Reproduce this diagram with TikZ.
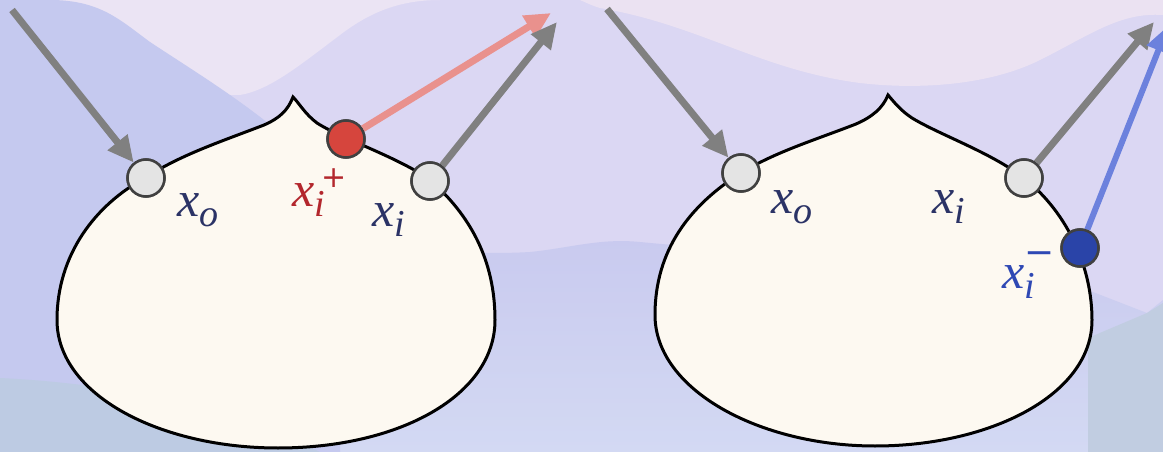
\documentclass[tikz,border=0pt]{standalone}
\usepackage{fontspec}
\setmainfont{Liberation Serif}
\newfontfamily\signfont{DejaVu Sans}
\usetikzlibrary{arrows.meta}
\definecolor{bgbase}{HTML}{DBD7F3}
\definecolor{pinka}{HTML}{EBE4F4}
\definecolor{pinkb}{HTML}{EBE2F2}
\definecolor{bluel}{HTML}{C5C9EF}
\definecolor{bandtop}{HTML}{C9CAEF}
\definecolor{bandbot}{HTML}{D3D9F3}
\definecolor{greyblue}{HTML}{BDCBE3}
\definecolor{greyblueR}{HTML}{C1CDE1}
\definecolor{cream}{HTML}{FDF9F1}
\definecolor{ptgrey}{HTML}{E4E4E4}
\definecolor{ptedge}{HTML}{404040}
\definecolor{ptred}{HTML}{D6453D}
\definecolor{ptblue}{HTML}{2A44A8}
\definecolor{argrey}{HTML}{808080}
\definecolor{arpink}{HTML}{E9918D}
\definecolor{arblue}{HTML}{6C81DD}
\definecolor{txnavy}{HTML}{2B3366}
\definecolor{txred}{HTML}{B3272D}
\definecolor{txblue}{HTML}{2E48B4}
\newcommand{\lsub}[1]{\raisebox{-10pt}{\fontsize{38}{38}\selectfont\itshape #1}}
\newcommand{\lsign}[3]{\raisebox{#1}{\fontsize{#2}{#2}\selectfont\signfont\upshape #3}}
\tikzset{
  blob/.style={draw=black, line width=3pt, fill=cream},
  pt/.style={circle, draw=ptedge, line width=2.5pt, minimum size=37pt, inner sep=0pt},
  arr/.style={line width=7pt, -{Triangle[length=26pt,width=24pt]}},
  lbl/.style={inner sep=0pt, anchor=base west, font=\fontsize{50}{54}\selectfont\itshape}
}
\begin{document}
\begin{tikzpicture}[x=1pt,y=-1pt]
\useasboundingbox (0,0) rectangle (1163,452);
\clip (0,0) rectangle (1163,452);
% background
\fill[bgbase] (0,0) rectangle (1163,452);
\fill[pinka] (0,0) -- (440,0) .. controls (400,0) and (370,12) .. (340,35)
  .. controls (300,65) and (270,90) .. (240,95) -- (0,95) -- cycle;
\fill[pinkb] (580,0) -- (1163,0) -- (1163,15) .. controls (1120,12) and (1090,35) .. (1040,60)
  .. controls (990,85) and (920,90) .. (860,83) .. controls (760,70) and (700,25) .. (600,8)
  .. controls (590,5) and (585,2) .. (580,0) -- cycle;
\shade[top color=bandtop, bottom color=bandbot] (300,252) .. controls (420,250) and (480,255) .. (530,252)
  .. controls (570,248) and (600,238) .. (640,242) .. controls (700,248) and (900,262) .. (1080,287)
  -- (1147,313) -- (1163,300) -- (1163,452) -- (300,452) -- cycle;
\fill[bluel] (0,0) -- (50,0) .. controls (100,0) and (120,20) .. (150,42)
  .. controls (200,75) and (250,105) .. (300,150) -- (340,200) -- (340,452) -- (0,452) -- cycle;
\fill[greyblue] (0,378) .. controls (80,382) and (200,395) .. (320,452) -- (0,452) -- cycle;
\fill[greyblueR] (1088,338) -- (1147,313) -- (1163,303) -- (1163,452) -- (1088,452) -- cycle;
% left blob
\draw[blob] (293,97) .. controls (288,110) and (280,118) .. (264,125)
  .. controls (220,142) and (180,155) .. (145,178)
  .. controls (95,205) and (57,255) .. (57,320)
  .. controls (57,395) and (160,448) .. (278,448)
  .. controls (400,448) and (495,395) .. (495,320)
  .. controls (495,260) and (470,215) .. (430,180)
  .. controls (400,158) and (340,138) .. (317,123)
  .. controls (305,114) and (299,103) .. (293,97) -- cycle;
% right blob
\draw[blob] (888,95) .. controls (883,108) and (872,117) .. (856,124)
  .. controls (815,140) and (775,152) .. (741,173)
  .. controls (690,205) and (655,250) .. (655,315)
  .. controls (655,390) and (760,446) .. (875,446)
  .. controls (990,446) and (1092,395) .. (1092,320)
  .. controls (1092,270) and (1070,215) .. (1024,178)
  .. controls (990,152) and (940,135) .. (912,118)
  .. controls (900,110) and (894,102) .. (888,95) -- cycle;
% points
\node[pt, fill=ptgrey] (o1) at (146,178) {};
\node[pt, fill=ptred] (p1) at (346,139) {};
\node[pt, fill=ptgrey] (i1) at (430,181) {};
\node[pt, fill=ptgrey] (o2) at (741,173) {};
\node[pt, fill=ptgrey] (i2) at (1024,178) {};
\node[pt, fill=ptblue] (m2) at (1080,248) {};
\coordinate (s1) at (12,10);
\coordinate (e1) at (557,22);
\coordinate (e1p) at (551,13);
\coordinate (s2) at (607,9);
\coordinate (e2) at (1154,22);
\coordinate (e2b) at (1168,26);
% arrows
\draw[arr, argrey] (s1) -- (o1);
\draw[arr, arpink] (p1) -- (e1p);
\draw[arr, argrey] (i1) -- (e1);
\draw[arr, argrey] (s2) -- (o2);
\draw[arr, argrey] (i2) -- (e2);
\draw[arr, arblue, line width=6pt] (m2) -- (e2b);
% redraw points on top
\node[pt, fill=ptgrey] at (o1) {};
\node[pt, fill=ptred] at (p1) {};
\node[pt, fill=ptgrey] at (i1) {};
\node[pt, fill=ptgrey] at (o2) {};
\node[pt, fill=ptgrey] at (i2) {};
\node[pt, fill=ptblue] at (m2) {};
% labels
\node[lbl, text=txnavy] (lo1) at (177,216) {x\lsub{o}};
\node[lbl, text=txred] (lp1) at (292,206) {x\lsub{i}\kern-3pt\lsign{19pt}{30}{+}};
\node[lbl, text=txnavy] (li1) at (372,226) {x\lsub{i}};
\node[lbl, text=txnavy] (lo2) at (771,213) {x\lsub{o}};
\node[lbl, text=txnavy] (li2) at (932,213) {x\lsub{i}};
\node[lbl, text=txblue] (lm2) at (1002,288) {x\rlap{\lsign{24pt}{36}{−}}\lsub{i}};
\end{tikzpicture}
\end{document}
